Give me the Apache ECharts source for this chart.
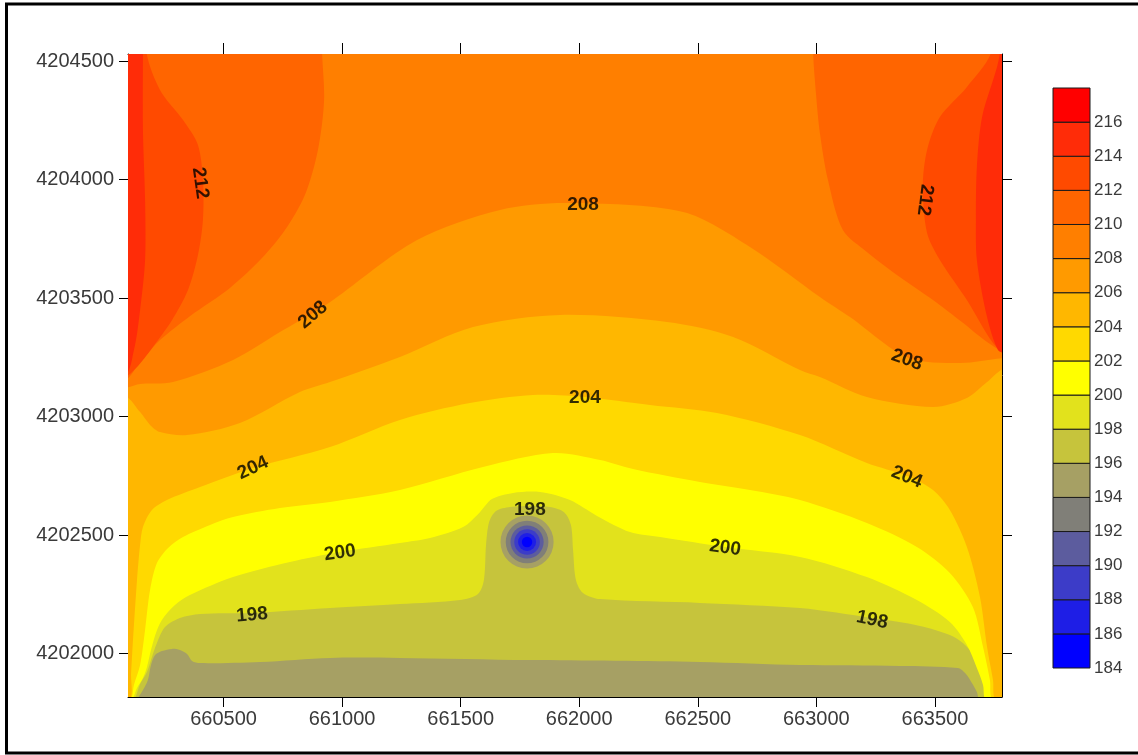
<!DOCTYPE html>
<html>
<head>
<meta charset="utf-8">
<script src="https://cdn.jsdelivr.net/npm/echarts@6/dist/echarts.min.js"></script>
<style>
  html, body { margin: 0; padding: 0; background: #fff; }
  #chart { width: 1138px; height: 755px; }
</style>
</head>
<body>
<div id="chart"></div>
<script>
// Contour levels: lower bound of each colour band (last entry closes the top band)
const levels = [184, 186, 188, 190, 192, 194, 196, 198, 200, 202, 204, 206, 208, 210, 212, 214, 216, 218];
// Fill of band [level, level + 2]
const bandColors = ['#0000ff', '#1e1ee6', '#3c3cc8', '#5c5c9e', '#807f78', '#a6a064', '#c6c43c', '#e2e21c',
                    '#ffff00', '#ffd900', '#ffb700', '#ff9a00', '#ff7f00', '#ff6500', '#ff4a00', '#ff2c08', '#ff0000'];

// Map extent (easting / northing, metres) and tick positions
const xRange = [660097, 663783];
const yRange = [4201817, 4204530];
const xTicks = [660500, 661000, 661500, 662000, 662500, 663000, 663500];
const yTicks = [4202000, 4202500, 4203000, 4203500, 4204000, 4204500];

// Contour lines as [easting, northing] vertices
const c196 = [[660127,4201800],[660160,4201847],[660181,4201889],[660194,4201952],[660211,4201994],[660240,4202011],[660283,4202020],[660316,4202015],[660346,4201998],[660367,4201969],[660401,4201960],[660654,4201965],[660949,4201982],[661244,4201982],[661792,4201973],[662509,4201965],[662931,4201952],[663352,4201948],[663597,4201939],[663631,4201914],[663656,4201876],[663677,4201838],[663690,4201800]];
const c198 = [[660118,4201800],[660148,4201872],[660177,4201922],[660198,4201986],[660219,4202045],[660253,4202112],[660316,4202150],[660401,4202167],[660620,4202171],[660949,4202192],[661244,4202209],[661497,4202226],[661573,4202252],[661598,4202311],[661607,4202458],[661620,4202555],[661649,4202602],[661708,4202619],[661792,4202623],[661877,4202619],[661936,4202597],[661965,4202543],[661974,4202437],[661986,4202311],[662016,4202256],[662088,4202230],[662509,4202214],[662931,4202192],[663235,4202150],[663437,4202117],[663563,4202079],[663618,4202045],[663660,4201998],[663690,4201931],[663711,4201859],[663724,4201800]];
const c200 = [[660110,4201800],[660135,4201855],[660160,4201897],[660177,4201944],[660194,4202015],[660215,4202087],[660240,4202142],[660295,4202205],[660358,4202247],[660540,4202323],[660780,4202387],[660991,4202429],[661244,4202467],[661371,4202488],[661510,4202534],[661582,4202598],[661632,4202652],[661721,4202678],[661835,4202682],[661961,4202648],[662075,4202581],[662214,4202513],[662341,4202492],[662615,4202450],[662931,4202408],[663213,4202323],[663424,4202226],[663563,4202133],[663635,4202036],[663677,4201939],[663703,4201868],[663716,4201800]];
const c202 = [[660105,4201800],[660122,4201868],[660148,4201952],[660169,4202100],[660190,4202268],[660219,4202382],[660266,4202446],[660329,4202492],[660443,4202543],[660540,4202576],[660738,4202614],[660949,4202640],[661244,4202690],[661594,4202787],[661889,4202846],[662088,4202817],[662227,4202779],[662509,4202724],[662720,4202690],[662931,4202648],[663213,4202551],[663424,4202450],[663563,4202340],[663660,4202197],[663703,4202028],[663732,4201889],[663745,4201800]];
const c204 = [[660101,4201800],[660110,4201918],[660118,4202057],[660135,4202311],[660148,4202458],[660160,4202534],[660198,4202606],[660261,4202648],[660401,4202703],[660624,4202783],[660949,4202872],[661244,4202986],[661539,4203057],[661805,4203091],[662024,4203083],[662299,4203049],[662581,4203015],[662931,4202922],[663213,4202804],[663382,4202749],[663492,4202690],[663563,4202606],[663635,4202450],[663690,4202239],[663720,4202028],[663745,4201889],[663758,4201800]];
const c206 = [[660080,4203087],[660148,4203019],[660190,4202965],[660232,4202935],[660346,4202922],[660569,4202973],[660822,4203104],[660949,4203146],[661244,4203252],[661552,4203378],[661919,4203429],[662370,4203399],[662649,4203336],[662931,4203197],[663015,4203167],[663213,4203083],[663492,4203041],[663635,4203079],[663720,4203146],[663800,4203205]];
const c208 = [[660080,4203121],[660148,4203138],[660287,4203146],[660540,4203239],[660738,4203357],[660877,4203437],[660962,4203492],[661316,4203745],[661666,4203872],[661948,4203901],[662438,4203863],[662720,4203716],[663015,4203505],[663142,4203420],[663382,4203251],[663606,4203226],[663800,4203247]];
const c210w = [[660915,4204550],[660924,4204336],[660898,4204125],[660843,4203935],[660759,4203787],[660662,4203669],[660527,4203543],[660358,4203424],[660232,4203323],[660148,4203230],[660080,4203154]];
const c212w = [[660173,4204550],[660232,4204378],[660329,4204251],[660392,4204146],[660413,4203998],[660413,4203830],[660392,4203682],[660350,4203534],[660283,4203408],[660198,4203289],[660131,4203205],[660080,4203167]];
const c214w = [[660160,4204550],[660160,4204209],[660169,4203914],[660169,4203661],[660148,4203450],[660122,4203281],[660080,4203176]];
const c210e = [[662986,4204550],[662999,4204357],[663015,4204197],[663049,4203998],[663112,4203787],[663213,4203695],[663352,4203589],[663492,4203492],[663614,4203399],[663720,4203315],[663800,4203273]];
const c212e = [[663741,4204550],[663635,4204391],[663521,4204264],[663467,4204125],[663449,4203969],[663467,4203775],[663521,4203661],[663635,4203492],[663745,4203311],[663800,4203273]];
const c214e = [[663775,4204550],[663762,4204475],[663699,4204264],[663677,4204053],[663673,4203830],[663677,4203661],[663720,4203420],[663766,4203281],[663800,4203268]];

// Closed depression: centre and contour radii (level, metres)
const spotCenter = [661780, 4202471];
const spotRings = [[196, 112], [194, 90], [192, 70], [190, 54], [188, 38], [186, 22]];

// Contour labels
const labelText = ['212', '212', '208', '208', '208', '204', '204', '204', '200', '200', '198', '198', '198'];
const labelPos = [[660401,4203986],[663458,4203914],[660877,4203429],[662016,4203893],[663382,4203239],[660624,4202783],[662024,4203079],[663382,4202745],[660991,4202425],[662615,4202446],[660620,4202163],[661792,4202606],[663235,4202142]];
const labelTilt = [-82, -97, 40, 0, -20, 25, 0, -22, 8, -8, 5, 0, -12];

// Each contour bounds the region at or above its level; 'kind' says which map edges close it
const contours = [
  { level: 196, kind: 'bottom', pts: c196 },
  { level: 198, kind: 'bottom', pts: c198 },
  { level: 200, kind: 'bottom', pts: c200 },
  { level: 202, kind: 'bottom', pts: c202 },
  { level: 204, kind: 'bottom', pts: c204 },
  { level: 206, kind: 'edges', pts: c206 },
  { level: 208, kind: 'edges', pts: c208 },
  { level: 210, kind: 'left', pts: c210w },
  { level: 212, kind: 'left', pts: c212w },
  { level: 214, kind: 'left', pts: c214w },
  { level: 210, kind: 'right', pts: c210e },
  { level: 212, kind: 'right', pts: c212e },
  { level: 214, kind: 'right', pts: c214e }
];

const colorOf = lv => bandColors[(lv - levels[0]) / 2];

function closeRing(c) {
  const pad = 400;
  const xL = xRange[0] - pad, xR = xRange[1] + pad, yLo = yRange[0] - pad, yHi = yRange[1] + pad;
  const p = c.pts, f = p[0], l = p[p.length - 1];
  let tail;
  if (c.kind === 'bottom') tail = [[xR, yLo], [xR, yHi], [xL, yHi], [xL, yLo]];
  else if (c.kind === 'edges') tail = [[xR, l[1]], [xR, yHi], [xL, yHi], [xL, f[1]]];
  else if (c.kind === 'left') tail = [[xL, l[1]], [xL, yHi], [f[0], yHi]];
  else tail = [[xR, l[1]], [xR, yHi], [f[0], yHi]];
  return p.concat(tail);
}

const FONT = 'Arial, "Liberation Sans", sans-serif';
const plain = v => String(v);
const chart = echarts.init(document.getElementById('chart'), null, { renderer: 'canvas' });

const axisCommon = {
  type: 'value',
  axisLine: { show: true, onZero: false, lineStyle: { color: '#000', width: 1 } },
  splitLine: { show: false }
};

const option = {
  animation: false,
  backgroundColor: '#fff',
  grid: [
    { left: 128, top: 54, width: 874, height: 643, show: true, backgroundColor: colorOf(194), borderWidth: 0 },
    { left: 1053, top: 88, width: 37, height: 580 }
  ],
  xAxis: [
    Object.assign({}, axisCommon, {
      gridIndex: 0, position: 'bottom', min: xRange[0], max: xRange[1],
      axisTick: { show: true, length: 10, customValues: xTicks, lineStyle: { color: '#000' } },
      axisLabel: { customValues: xTicks, formatter: plain, fontSize: 20, fontFamily: FONT, color: '#3a3a3a', margin: 12 }
    }),
    Object.assign({}, axisCommon, {
      gridIndex: 0, position: 'top', min: xRange[0], max: xRange[1],
      axisTick: { show: true, length: 11, customValues: xTicks, lineStyle: { color: '#000' } },
      axisLabel: { show: false }
    }),
    { type: 'value', gridIndex: 1, min: 0, max: 1, show: false }
  ],
  yAxis: [
    Object.assign({}, axisCommon, {
      gridIndex: 0, position: 'left', min: yRange[0], max: yRange[1],
      axisTick: { show: true, length: 9, customValues: yTicks, lineStyle: { color: '#000' } },
      axisLabel: { customValues: yTicks, formatter: plain, fontSize: 20, fontFamily: FONT, color: '#3a3a3a', margin: 14 }
    }),
    Object.assign({}, axisCommon, {
      gridIndex: 0, position: 'right', min: yRange[0], max: yRange[1],
      axisTick: { show: true, length: 10, customValues: yTicks, lineStyle: { color: '#000' } },
      axisLabel: { show: false }
    }),
    {
      type: 'value', gridIndex: 1, position: 'right', min: levels[0], max: levels[levels.length - 1], interval: 2,
      axisLine: { show: false }, axisTick: { show: false }, splitLine: { show: false },
      axisLabel: {
        fontSize: 17, fontFamily: FONT, color: '#3a3a3a', margin: 4, padding: [0, 0, 5, 0],
        formatter: v => (v === levels[levels.length - 1] ? '' : String(v))
      }
    }
  ],
  series: [
    {
      // filled contour bands
      type: 'custom', xAxisIndex: 0, yAxisIndex: 0, clip: true, silent: true,
      data: contours.map((c, i) => [c.pts[0][0], c.pts[0][1], i]),
      encode: { x: 0, y: 1 },
      renderItem(params, api) {
        const c = contours[params.dataIndex];
        const cs = params.coordSys;
        const pts = closeRing(c).map(p => api.coord(p));
        return {
          type: 'group',
          clipPath: { type: 'rect', shape: { x: cs.x, y: cs.y, width: cs.width, height: cs.height } },
          children: [{
            type: 'polygon',
            shape: { points: pts, smooth: 0.3 },
            style: { fill: colorOf(c.level), stroke: null }
          }]
        };
      }
    },
    {
      // closed low around the pumping spot
      type: 'custom', xAxisIndex: 0, yAxisIndex: 0, clip: true, silent: true,
      data: spotRings.map(r => [spotCenter[0], spotCenter[1], r[0], r[1]]),
      encode: { x: 0, y: 1 },
      renderItem(params, api) {
        const ring = spotRings[params.dataIndex];
        const c = api.coord(spotCenter);
        const s = api.size([ring[1], ring[1]]);
        return {
          type: 'circle',
          shape: { cx: c[0], cy: c[1], r: (s[0] + s[1]) / 2 },
          style: { fill: colorOf(ring[0] - 2), stroke: null }
        };
      }
    },
    {
      // contour value labels
      type: 'scatter', xAxisIndex: 0, yAxisIndex: 0, silent: true, symbolSize: 0,
      data: labelPos.map((p, i) => ({
        value: p,
        label: { rotate: labelTilt[i] }
      })),
      label: {
        show: true, position: 'inside',
        formatter: p => labelText[p.dataIndex],
        fontSize: 19, fontWeight: 'bold', fontFamily: FONT, color: '#000'
      },
      z: 5
    },
    {
      // colour scale
      type: 'custom', xAxisIndex: 2, yAxisIndex: 2, silent: true,
      data: levels.slice(0, -1).map((lo, i) => [0, lo, i]),
      encode: { x: 0, y: 1 },
      renderItem(params, api) {
        const lo = levels[params.dataIndex];
        const a = api.coord([0, lo + 2]);
        const b = api.coord([1, lo]);
        return {
          type: 'rect',
          shape: { x: a[0], y: a[1], width: b[0] - a[0], height: b[1] - a[1] },
          style: { fill: colorOf(lo), stroke: '#1a1a1a', lineWidth: 1 }
        };
      }
    }
  ],
  graphic: [
    {
      type: 'rect', silent: true, z: 100,
      shape: { x: 6.5, y: 4, width: 1150, height: 749 },
      style: { fill: 'none', stroke: '#000', lineWidth: 3 }
    }
  ]
};

chart.setOption(option);
</script>
</body>
</html>
